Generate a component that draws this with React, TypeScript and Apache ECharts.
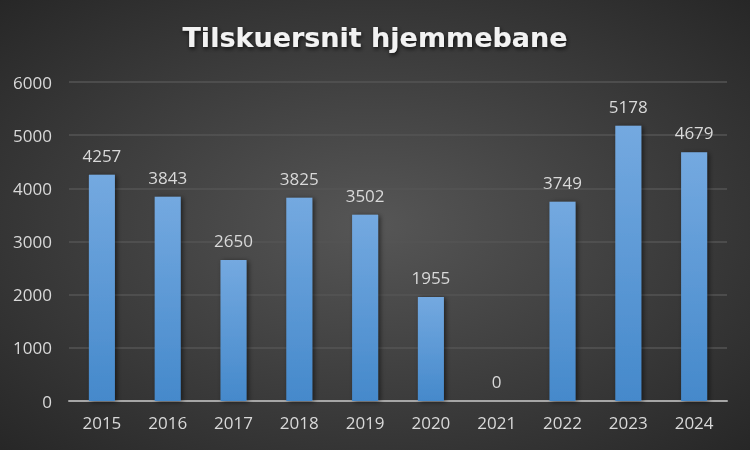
import React, { useEffect, useRef } from "react";
import * as echarts from "echarts";

const categories = ["2015", "2016", "2017", "2018", "2019", "2020", "2021", "2022", "2023", "2024"];
const attendance = [4257, 3843, 2650, 3825, 3502, 1955, 0, 3749, 5178, 4679];
const titleText = "Tilskuersnit hjemmebane";

export default function App() {
  const ref = useRef<HTMLDivElement>(null);
  useEffect(() => {
    const chart = echarts.init(ref.current!, null, { renderer: "svg" });
    chart.setOption({
      animation: false,
      backgroundColor: new echarts.graphic.RadialGradient(0.5, 0.5, 0.75, [
        { offset: 0, color: "#565656" },
        { offset: 1, color: "#242424" },
      ]),
      title: {
        text: titleText,
        left: "center",
        top: 19,
        textStyle: {
          fontFamily: "DejaVu Sans",
          fontWeight: "bold",
          fontSize: 27,
          color: "#f2f2f2",
          textShadowColor: "rgba(0,0,0,0.7)",
          textShadowBlur: 4,
          textShadowOffsetX: 1,
          textShadowOffsetY: 2,
        },
      },
      grid: { left: 69, right: 23, top: 82, bottom: 49 },
      xAxis: {
        type: "category",
        data: categories,
        axisTick: { show: false },
        axisLine: { lineStyle: { color: "#a6a6a6", width: 2 } },
        axisLabel: { color: "#d9d9d9", fontFamily: "Open Sans", fontSize: 17, margin: 13 },
      },
      yAxis: {
        type: "value",
        min: 0,
        max: 6000,
        interval: 1000,
        axisLine: { show: false },
        axisTick: { show: false },
        splitLine: { lineStyle: { color: "#555555", width: 1.5 } },
        axisLabel: {
          color: "#d9d9d9",
          fontFamily: "Open Sans",
          fontSize: 17,
          margin: 17,
          formatter: (v: number) => String(v),
        },
      },
      series: [
        {
          type: "bar",
          data: attendance,
          barWidth: 26,
          itemStyle: {
            color: new echarts.graphic.LinearGradient(0, 0, 0, 1, [
              { offset: 0, color: "#74a9e0" },
              { offset: 1, color: "#4589cb" },
            ]),
            shadowColor: "rgba(0,0,0,0.55)",
            shadowBlur: 5,
            shadowOffsetX: 2,
            shadowOffsetY: 1,
          },
          label: {
            show: true,
            position: "top",
            distance: 11,
            color: "#d9d9d9",
            fontFamily: "Open Sans",
            fontSize: 17,
          },
        },
      ],
    });
    return () => chart.dispose();
  }, []);
  return <div ref={ref} style={{ position: "fixed", left: 0, top: 0, width: 750, height: 450 }} />;
}
